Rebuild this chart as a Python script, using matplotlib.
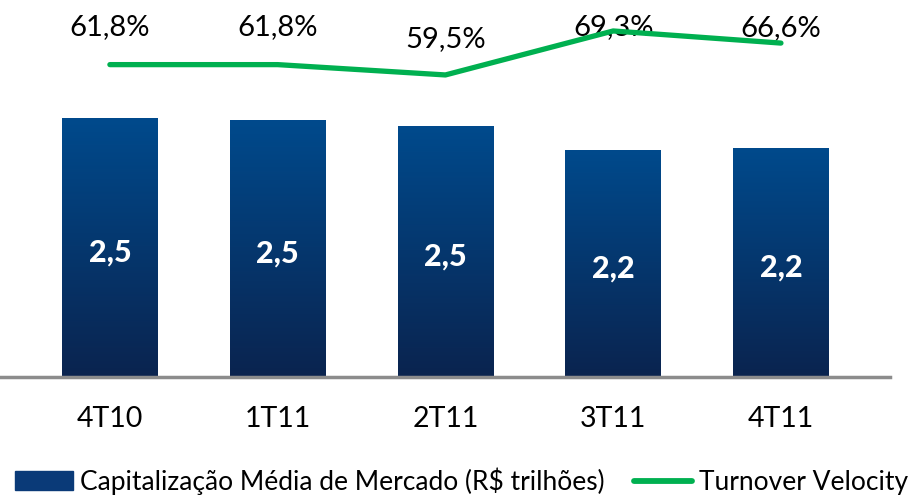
import numpy as np
import matplotlib.pyplot as plt
from matplotlib.patches import Rectangle
from matplotlib.lines import Line2D

plt.rcParams["font.family"] = ["Lato", "DejaVu Sans"]

quarters = ["4T10", "1T11", "2T11", "3T11", "4T11"]
market_cap = [2.54, 2.52, 2.46, 2.23, 2.25]
cap_labels = ["2,5", "2,5", "2,5", "2,2", "2,2"]
turnover = [61.8, 61.8, 59.5, 69.3, 66.6]
turnover_labels = ["61,8%", "61,8%", "59,5%", "69,3%", "66,6%"]

# label offsets above the line points (points)
label_dy = [27, 27, 26, 3, 11]

GREEN = "#00B050"
TOP = np.array([0.0, 0.29, 0.55])
BOTTOM = np.array([0.04, 0.14, 0.31])

fig = plt.figure(figsize=(9.12, 4.96), dpi=100)
ax = fig.add_axes([0.0, 0.24, 890 / 912, 0.76])
x = np.arange(len(quarters))
width = 0.57

bars = ax.bar(x, market_cap, width, color="none", zorder=2)
grad = np.linspace(0, 1, 256)[:, None, None]
img = TOP * (1 - grad) + BOTTOM * grad
for b in bars:
    x0, y0 = b.get_x(), b.get_y()
    w, h = b.get_width(), b.get_height()
    im = ax.imshow(img, extent=[x0, x0 + w, y0, y0 + h], aspect="auto",
                   origin="upper", zorder=2)
    im.set_clip_path(b)

for xi, v, lab in zip(x, market_cap, cap_labels):
    ax.text(xi, v / 2 - 0.05, lab, ha="center", va="center", color="white",
            fontsize=22, fontweight="black", zorder=3)

ax.set_xlim(-0.655, 4.65)
ax.set_ylim(0, 3.70)
ax.set_yticks([])
ax.set_xticks(x)
ax.set_xticklabels(quarters, fontsize=20.5)
ax.tick_params(axis="x", length=0, pad=21)
for s in ["top", "right", "left"]:
    ax.spines[s].set_visible(False)
ax.spines["bottom"].set_color("#8c8c8c")
ax.spines["bottom"].set_linewidth(2.5)

ax2 = ax.twinx()
ax2.plot(x, turnover, color=GREEN, lw=3.8, solid_capstyle="round", zorder=4)
ax2.set_ylim(-7.8, 76.2)
ax2.set_yticks([])
for s in ["top", "right", "left", "bottom"]:
    ax2.spines[s].set_visible(False)
for xi, v, lab, dy in zip(x, turnover, turnover_labels, label_dy):
    ax2.annotate(lab, (xi, v), xytext=(0, dy), textcoords="offset points",
                 ha="center", va="center", fontsize=21)

handles = [Rectangle((0, 0), 1, 1, color="#0a3a78"),
           Line2D([0], [0], color=GREEN, lw=4.2, solid_capstyle="round")]
fig.legend(handles, ["Capitalização Média de Mercado (R$ trilhões)", "Turnover Velocity"],
           loc="center left", bbox_to_anchor=(15 / 912, 1 - 481 / 496), ncol=2,
           frameon=False, fontsize=19, handlelength=2.2, handletextpad=0.27,
           columnspacing=1.1, borderpad=0, borderaxespad=0)

fig.savefig("out.png", dpi=100)
